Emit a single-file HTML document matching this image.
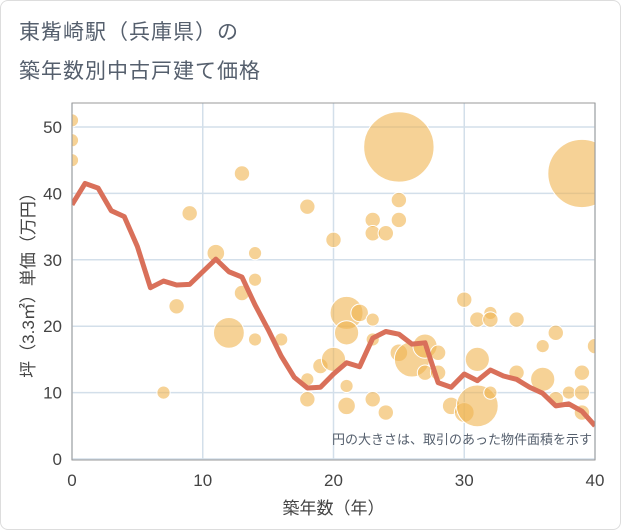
<!DOCTYPE html>
<html><head><meta charset="utf-8"><style>
body{margin:0;background:#fff;font-family:"Liberation Sans","Noto Sans CJK JP",sans-serif}
#wrap{position:relative;width:619px;height:528px;border:1px solid #ddd;border-radius:8px;overflow:hidden}
.t{position:absolute;left:18px;color:#555f6d;font-size:21px;letter-spacing:1px}
</style></head><body>
<div id="wrap">
<div class="t" style="top:15px">東觜崎駅（兵庫県）の</div>
<div class="t" style="top:54px">築年数別中古戸建て価格</div>
<svg id="c" width="621" height="530" style="position:absolute;left:-1px;top:-1px"><defs><clipPath id="pc"><rect x="72" y="103" width="523" height="357"/></clipPath></defs></svg>
</div>
<script>
const lineX=[0,1,2,3,4,5,6,7,8,9,10,11,12,13,14,15,16,17,18,19,20,21,22,23,24,25,26,27,28,29,30,31,32,33,34,35,36,37,38,39,40];
const lineY=[38.3,41.5,40.8,37.4,36.5,32,25.8,26.8,26.2,26.3,28.2,30.1,28.2,27.4,23.2,19.5,15.5,12.3,10.7,10.8,12.8,14.5,13.9,18.2,19.2,18.8,17.3,17.5,11.5,10.8,12.8,11.8,13.4,12.5,12,10.8,9.9,8,8.3,7.2,5];
const ptX=[0,0,0,7,8,9,11,12,13,13,14,14,14,16,18,18,18,19,20,20,21,21,21,21,22,23,23,23,23,23,24,24,25,25,25,25,26,27,27,28,28,29,30,30,31,31,31,32,32,32,34,34,36,36,37,37,38,39,39,39,39,40];
const ptY=[51,48,45,10,23,37,31,19,43,25,31,27,18,18,38,12,9,14,33,15,22,19,11,8,22,36,34,21,18,9,34,7,47,39,36,16,15,17,13,16,13,8,24,7,21,15,8,22,21,10,21,13,17,12,19,9,10,43,13,10,7,17];
const ptArea=[36,36,36,36,49,49,64,196,49,49,36,36,36,36,49,36,49,49,49,121,225,121,36,64,64,49,49,36,36,49,49,49,1024,49,49,64,256,121,49,49,49,64,49,81,49,121,361,36,49,36,49,49,36,121,49,49,36,961,49,49,49,49];
const xTicks=[0,10,20,30,40], yTicks=[0,10,20,30,40,50];
const L=72,R=595,T=103,B=460;
const sx=v=>L+v*(R-L)/40, sy=v=>459-v*6.64;
const s=document.getElementById('c'),NS='http://www.w3.org/2000/svg';
function mk(t,a,p){const e=document.createElementNS(NS,t);for(const k in a)e.setAttribute(k,a[k]);(p||s).appendChild(e);return e;}
xTicks.forEach(v=>{const l=mk('line',{x1:sx(v),x2:sx(v),y1:T,y2:B,stroke:'#d3dfea','stroke-width':1.5});

const t=mk('text',{x:sx(v),y:486,'text-anchor':'middle','font-size':17,fill:'#444'});t.textContent=v;
});
yTicks.forEach(v=>{const l=mk('line',{x1:L,x2:R,y1:sy(v),y2:sy(v),stroke:'#d3dfea','stroke-width':1.5});

const t=mk('text',{x:62,y:sy(v)+6,'text-anchor':'end','font-size':17,fill:'#444'});t.textContent=v;
});
const g=mk('g',{'clip-path':'url(#pc)'});

ptX.forEach((x,i)=>{const c=mk('circle',{cx:sx(x),cy:sy(ptY[i]),r:Math.sqrt(ptArea[i])*1.1,fill:'rgba(240,180,80,0.6)',stroke:'#fff','stroke-width':1},g);
});
const pl=mk('polyline',{points:lineX.map((x,i)=>sx(x)+','+sy(lineY[i])).join(' '),fill:'none',stroke:'#d9705a','stroke-width':5,'stroke-linejoin':'round'},g);

const fr=mk('rect',{x:L,y:T,width:R-L,height:B-T,fill:'none',stroke:'#999','stroke-width':1});

const n=mk('text',{x:592,y:444,'text-anchor':'end','font-size':13,fill:'#555f6d'});n.textContent='円の大きさは、取引のあった物件面積を示す';

const xt=mk('text',{x:sx(20),y:514,'text-anchor':'middle','font-size':17,fill:'#444'});xt.textContent='築年数（年）';

const yt=mk('text',{x:0,y:0,'text-anchor':'middle','font-size':17,fill:'#444',transform:'translate(34,281) rotate(-90)'});yt.textContent='坪（3.3㎡）単価（万円）';

</script>
</body></html>
